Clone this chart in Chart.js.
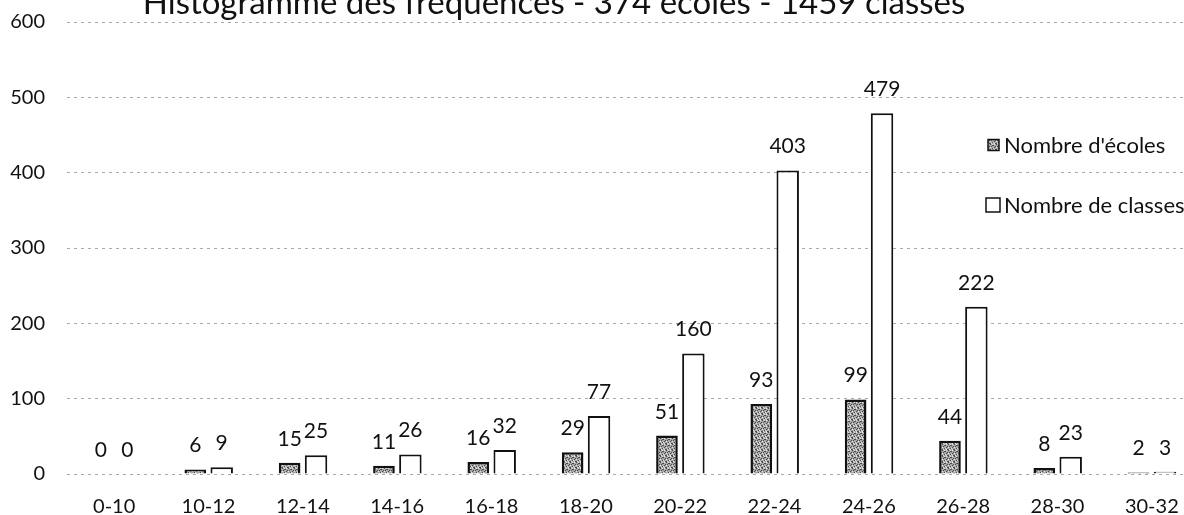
<!DOCTYPE html>
<html>
<head>
<meta charset="utf-8">
<script src="https://cdn.jsdelivr.net/npm/chart.js"></script>
<style>
  html, body { margin: 0; padding: 0; background: #fff; overflow: hidden; }
  #wrap { width: 1200px; height: 515px; }
</style>
</head>
<body>
<div id="wrap"><canvas id="histo"></canvas></div>
<script>
// Data
const categories = ['0-10', '10-12', '12-14', '14-16', '16-18', '18-20', '20-22', '22-24', '24-26', '26-28', '28-30', '30-32'];
const ecoles = [0, 6, 15, 11, 16, 29, 51, 93, 99, 44, 8, 2];
const classes = [0, 9, 25, 26, 32, 77, 160, 403, 479, 222, 23, 3];
const yTicks = [0, 100, 200, 300, 400, 500, 600];
const titleText = 'Histogramme des fréquences - 374 écoles - 1459 classes';

const FONT = 'Lato, "Open Sans", sans-serif';

// speckled grey fill for the schools bars
function makeGreyPattern() {
    const c = document.createElement('canvas');
    c.width = 6; c.height = 6;
    const g = c.getContext('2d');
    g.fillStyle = '#a8a8a8';
    g.fillRect(0, 0, 6, 6);
    const dark = [[0,0],[3,1],[1,2],[5,2],[2,4],[4,3],[0,5],[5,5],[2,1]];
    g.fillStyle = '#4a4a4a';
    dark.forEach(p => g.fillRect(p[0], p[1], 1, 1));
    const light = [[2,0],[4,0],[0,3],[3,4],[1,5],[4,5]];
    g.fillStyle = '#e2e2e2';
    light.forEach(p => g.fillRect(p[0], p[1], 1, 1));
    return g.createPattern(c, 'repeat');
}

const ctx = document.getElementById('histo');
const greyFill = makeGreyPattern();

// Title drawn partly above the canvas edge, like the scan
const titlePlugin = {
    id: 'scanTitle',
    afterDraw(chart) {
        const c = chart.ctx;
        c.save();
        c.font = '33px ' + FONT;
        c.fillStyle = '#111';
        c.textAlign = 'center';
        c.textBaseline = 'alphabetic';
        c.fillText(titleText, 554, 14);
        c.restore();
    }
};

// Value labels above every bar
const valueLabels = {
    id: 'valueLabels',
    afterDatasetsDraw(chart) {
        const c = chart.ctx;
        c.save();
        c.font = '21px ' + FONT;
        c.fillStyle = '#111';
        c.textAlign = 'center';
        c.textBaseline = 'alphabetic';
        chart.data.datasets.forEach((ds, i) => {
            chart.getDatasetMeta(i).data.forEach((bar, j) => {
                c.fillText(String(ds.data[j]), bar.x, bar.y - 17);
            });
        });
        c.restore();
    }
};

// Legend sitting inside the plot on the right
const insideLegend = {
    id: 'insideLegend',
    afterDraw(chart) {
        const c = chart.ctx;
        const rows = [
            { x: 988, y: 145, box: 11 },
            { x: 986, y: 205, box: 14 }
        ];
        c.save();
        c.font = '22px ' + FONT;
        c.textBaseline = 'middle';
        chart.data.datasets.forEach((ds, i) => {
            const r = rows[i];
            c.fillStyle = ds.backgroundColor;
            c.fillRect(r.x, r.y - r.box / 2, r.box, r.box);
            c.lineWidth = 1.5;
            c.strokeStyle = '#111';
            c.strokeRect(r.x, r.y - r.box / 2, r.box, r.box);
            c.fillStyle = '#111';
            c.fillText(ds.label, 1004, r.y + 1);
        });
        c.restore();
    }
};

new Chart(ctx, {
    type: 'bar',
    data: {
        labels: categories,
        datasets: [{
            label: "Nombre d'écoles",
            data: ecoles,
            backgroundColor: greyFill,
            borderColor: '#111',
            borderWidth: 2.5,
            barPercentage: 0.82,
            categoryPercentage: 0.56
        }, {
            label: 'Nombre de classes',
            data: classes,
            backgroundColor: '#ffffff',
            borderColor: '#111',
            borderWidth: 2,
            barPercentage: 0.85,
            categoryPercentage: 0.56
        }]
    },
    options: {
        responsive: true,
        maintainAspectRatio: false,
        animation: false,
        layout: {
            padding: { top: 22, right: 1, bottom: 0, left: 0 }
        },
        plugins: {
            legend: { display: false },
            title: { display: false },
            tooltip: { enabled: false }
        },
        scales: {
            x: {
                grid: { display: false },
                border: { display: false },
                ticks: {
                    color: '#111',
                    padding: 13,
                    font: { family: FONT, size: 20 }
                },
                afterFit(scale) { scale.height = 41; }
            },
            y: {
                min: 0,
                max: 600,
                border: { display: false, dash: [3, 4] },
                grid: {
                    color: '#aaaaaa',
                    lineWidth: 1,
                    drawTicks: false
                },
                afterBuildTicks(scale) {
                    scale.ticks = yTicks.map(v => ({ value: v }));
                },
                ticks: {
                    color: '#111',
                    padding: 22,
                    font: { family: FONT, size: 20 }
                },
                afterFit(scale) {
                    scale.width = 67;
                    // tick padding should not push the plot down
                    scale.paddingTop = 0;
                    scale.paddingBottom = 0;
                }
            }
        }
    },
    plugins: [titlePlugin, valueLabels, insideLegend]
});
</script>
</body>
</html>
